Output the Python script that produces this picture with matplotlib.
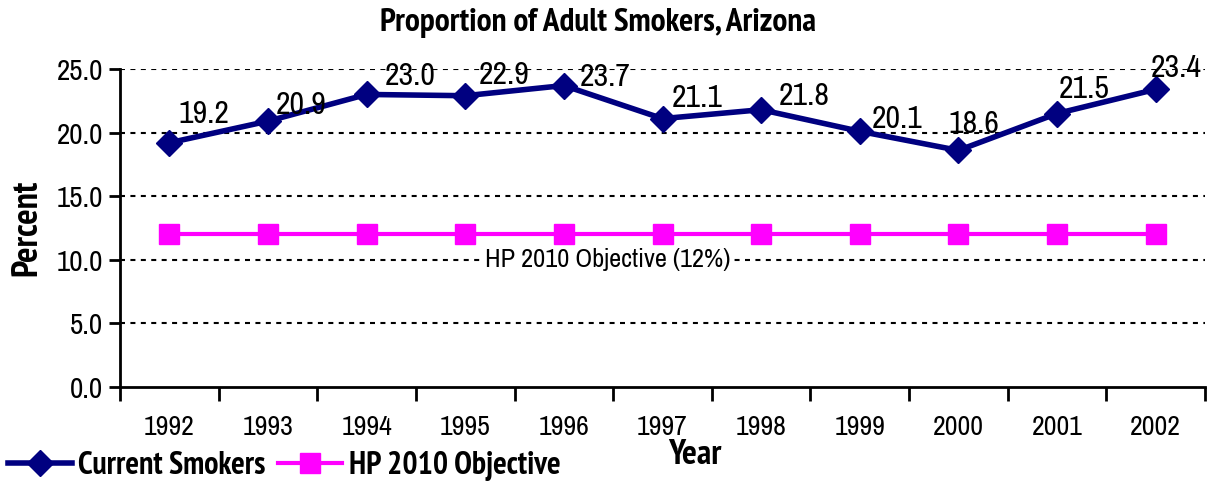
import matplotlib.pyplot as plt
import numpy as np

# data
years = ['1992', '1993', '1994', '1995', '1996', '1997', '1998', '1999', '2000', '2001', '2002']
smokers = [19.2, 20.9, 23.0, 22.9, 23.7, 21.1, 21.8, 20.1, 18.6, 21.5, 23.4]
objective = [12, 12, 12, 12, 12, 12, 12, 12, 12, 12, 12]
yticks = [0, 5, 10, 15, 20, 25]

# label offsets in pixels (dx, dy) - labels were dragged by hand in the original
lab_off = [(35, 29), (33, 16), (44, 18), (39, 21), (41, 9), (35, 21),
           (43, 14), (37, 12), (15, 26), (27, 25), (21, 21)]

plt.rcParams['font.family'] = ['Liberation Sans Narrow', 'Archivo Narrow', 'DejaVu Sans']
boldfam = ['PT Sans Narrow', 'Roboto Condensed', 'Saira Condensed', 'Archivo Narrow']

fig = plt.figure(figsize=(12.07, 4.83), dpi=100)
ax = fig.add_axes([120/1207, 1-387/483, (1205-120)/1207, (387-69)/483])

x = np.arange(len(years))
ax.plot(x, smokers, color='#000080', lw=4, marker='D', ms=13, label='Current Smokers', zorder=4)
ax.plot(x, objective, color='#FF00FF', lw=3, marker='s', ms=14, label='HP 2010 Objective', zorder=3)

for i, v in enumerate(smokers):
    ax.annotate('%.1f' % v, (x[i], v), xytext=lab_off[i], textcoords='offset pixels',
                ha='center', va='center', fontsize=23, zorder=5)

ax.text(4.44, 10.0, 'HP 2010 Objective (12%)', ha='center', va='center', fontsize=19,
        bbox=dict(facecolor='white', edgecolor='none', pad=3), zorder=2)

ax.set_ylim(0, 25)
ax.set_xlim(-0.5, len(years) - 0.5)
ax.set_yticks(yticks)
ax.set_yticklabels(['%.1f' % t for t in yticks], fontsize=21)
ax.set_xticks(np.arange(-0.5, len(years)), minor=False)
ax.set_xticklabels([])
ax.set_xticks(x, minor=True)
ax.set_xticklabels(years, minor=True, fontsize=20)
ax.tick_params(axis='x', which='minor', length=0, pad=20)
ax.tick_params(axis='x', which='major', length=10, width=2, direction='out')
ax.tick_params(axis='y', length=8, width=2, direction='out', pad=4)

for t in yticks[1:]:
    ax.axhline(t, color='black', lw=1.5, ls=(0, (2.4, 2.6)), zorder=1)

for s in ['top', 'right']:
    ax.spines[s].set_visible(False)
for s in ['left', 'bottom']:
    ax.spines[s].set_linewidth(2)

fig.text(598/1207, 1-23/483, 'Proportion of Adult Smokers, Arizona', ha='center', va='center',
         fontsize=24, fontweight='bold', family=boldfam)
fig.text(27/1207, 1-228/483, 'Percent', ha='center', va='center', rotation=90,
         fontsize=26, fontweight='bold', family=boldfam)
fig.text(695/1207, 1-455/483, 'Year', ha='center', va='center', fontsize=25,
         fontweight='bold', family=boldfam)

fig.legend(loc='center left', bbox_to_anchor=(8/1207, 1-466/483), ncol=2, frameon=False,
           prop={'size': 23, 'weight': 'bold', 'family': boldfam}, handlelength=2.0,
           handletextpad=0.2, columnspacing=0.4, borderaxespad=0, borderpad=0)

fig.savefig('out.png', dpi=100)
